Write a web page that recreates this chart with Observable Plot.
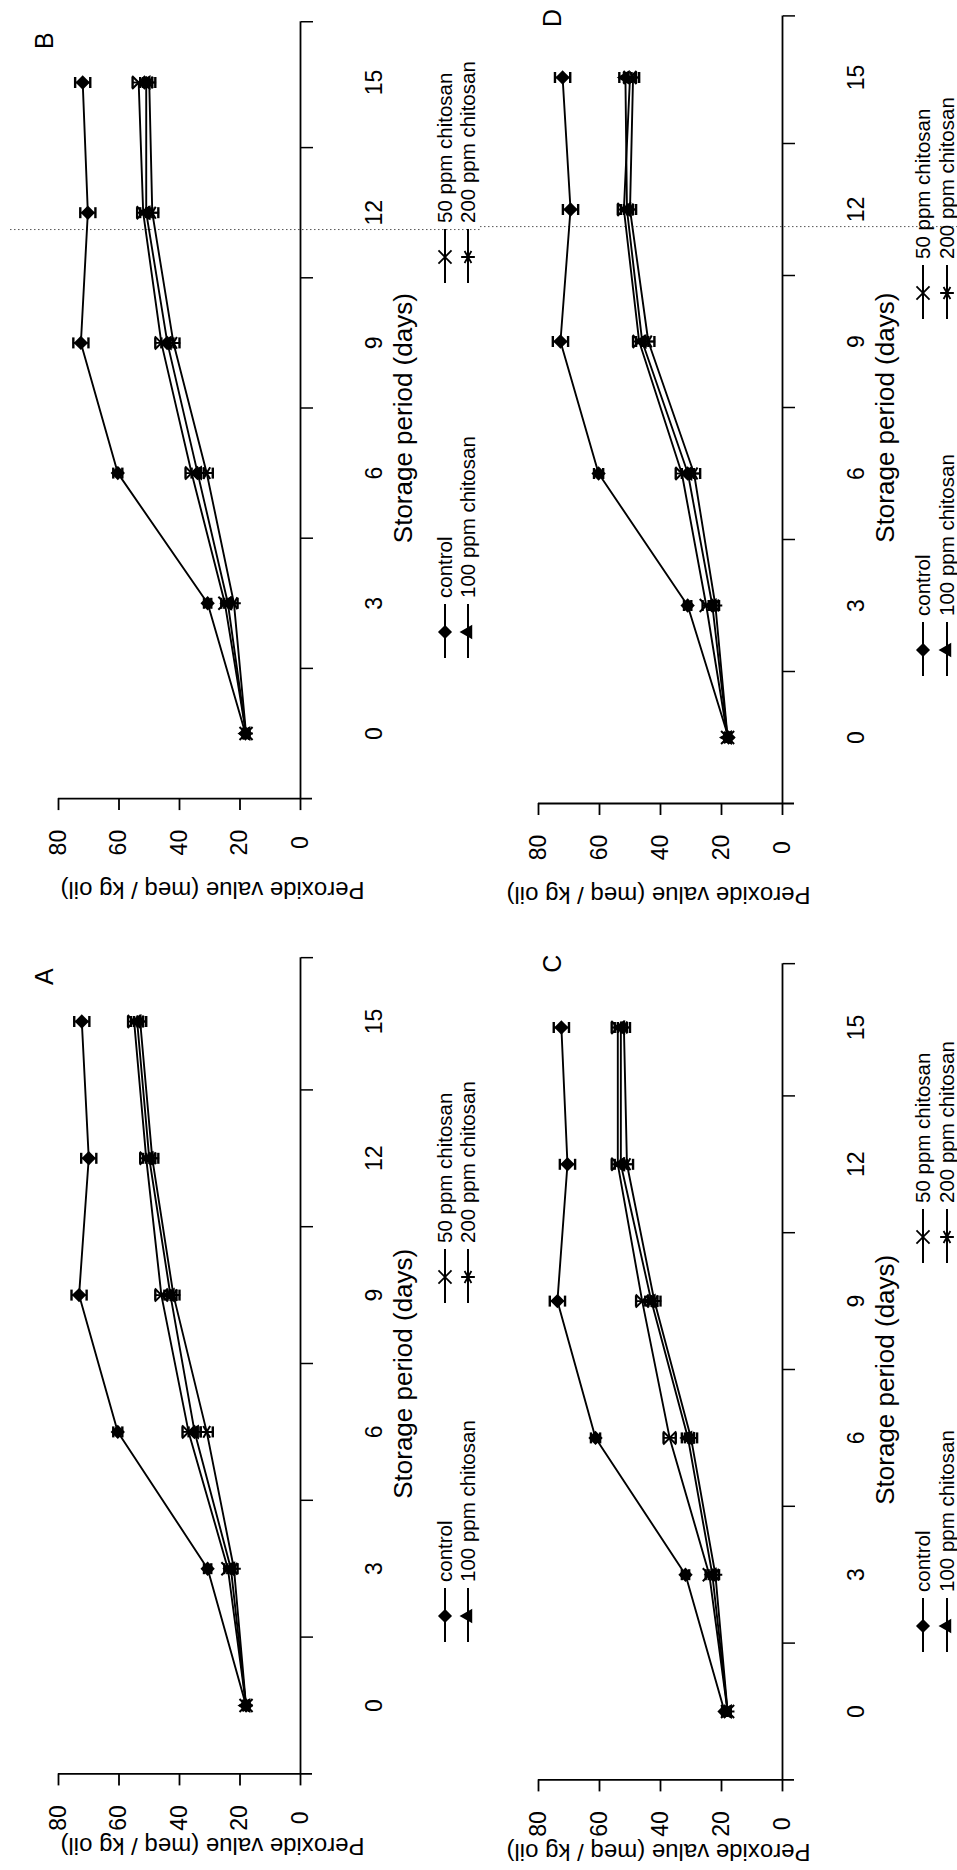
<!DOCTYPE html>
<html>
<head>
<meta charset="utf-8">
<script src="https://cdn.jsdelivr.net/npm/d3@7"></script>
<script src="https://cdn.jsdelivr.net/npm/@observablehq/plot@0.6"></script>
<style>
  html, body { margin: 0; padding: 0; background: #fff; }
  #fig { position: relative; width: 957px; height: 1870px; overflow: hidden; background: #fff; }
  #fig svg { position: absolute; }
</style>
</head>
<body>
<div id="fig"></div>
<script>
// ---------------- data ----------------
const days = [0, 3, 6, 9, 12, 15];
const seriesNames = ["control", "50 ppm chitosan", "100 ppm chitosan", "200 ppm chitosan"];
const panelLetters = ["A", "B", "C", "D"];

const A_control = [18.0, 30.7, 60.4, 73.2, 70.0, 72.3];
const A_50ppm   = [18.0, 24.0, 37.0, 46.0, 51.0, 55.0];
const A_100ppm  = [18.0, 23.0, 35.0, 43.0, 50.0, 54.0];
const A_200ppm  = [18.0, 22.0, 31.0, 42.0, 49.0, 53.0];

const B_control = [18.2, 30.7, 60.4, 72.6, 70.3, 72.0];
const B_50ppm   = [18.0, 25.0, 36.0, 46.0, 52.0, 53.5];
const B_100ppm  = [18.0, 24.0, 34.0, 44.0, 51.0, 51.0];
const B_200ppm  = [18.0, 22.0, 31.0, 42.0, 49.0, 50.0];

const C_control = [19.0, 31.8, 61.3, 73.8, 70.5, 72.5];
const C_50ppm   = [18.0, 24.0, 37.0, 46.0, 54.0, 54.0];
const C_100ppm  = [18.0, 23.0, 31.0, 43.0, 53.0, 53.0];
const C_200ppm  = [18.0, 22.0, 30.0, 42.0, 51.0, 52.0];

const D_control = [17.7, 31.1, 60.3, 72.8, 69.5, 72.1];
const D_50ppm   = [18.0, 25.0, 33.0, 47.0, 52.0, 50.0];
const D_100ppm  = [18.0, 23.0, 31.0, 46.0, 51.0, 51.5];
const D_200ppm  = [18.0, 22.0, 29.0, 44.0, 50.0, 49.0];

const sem_control = [0.8, 1.2, 1.5, 2.5, 2.5, 2.5];
const sem_treated = [1.0, 1.2, 2.0, 2.0, 2.0, 2.0];

const peroxideTicks = [0, 20, 40, 60, 80];
const dayTickLabels = [0, 3, 6, 9, 12, 15];
const dayMinorTicks = [1.5, 4.5, 7.5, 10.5, 13.5, 16.4];
const dayDomain = [-1.5, 16.4];
const peroxideDomain = [80, 0];
const scanLineDay = [11.6];

const xTitle = "Storage period (days)";
const yTitle = "Peroxide value (meq / kg oil)";

// ---------------- layout (pixels) ----------------
const FONT = '"Liberation Sans", Arial, Helvetica, sans-serif';
const layout = {
  A: {left: 0,   top: 905, width: 480, height: 965, marginLeft: 58, frameRight: 300, y0: 1705, perDay: 45.6,
      legendX: [145, 168], legendY: [1616, 1277], letterDx: -14, letterDy: 19, pvDx: 33, pvDy: 72, scan: false},
  B: {left: 0,   top: 0,   width: 480, height: 905, marginLeft: 58, frameRight: 300, y0: 733,  perDay: 43.4,
      legendX: [145, 168], legendY: [632, 257],   letterDx: -14, letterDy: 19, pvDx: 33, pvDy: 91, scan: true},
  C: {left: 480, top: 905, width: 477, height: 965, marginLeft: 58, frameRight: 302, y0: 1711, perDay: 45.6,
      legendX: [141, 165], legendY: [1626, 1237], letterDx: 14, letterDy: 0, pvDx: -2, pvDy: 72, scan: false},
  D: {left: 480, top: 0,   width: 477, height: 905, marginLeft: 58, frameRight: 302, y0: 737,  perDay: 44.0,
      legendX: [141, 165], legendY: [650, 293],   letterDx: 14, letterDy: 2, pvDx: -2, pvDy: 91, scan: true}
};

const values = {
  A: [A_control, A_50ppm, A_100ppm, A_200ppm],
  B: [B_control, B_50ppm, B_100ppm, B_200ppm],
  C: [C_control, C_50ppm, C_100ppm, C_200ppm],
  D: [D_control, D_50ppm, D_100ppm, D_200ppm]
};
const sems = [sem_control, sem_treated, sem_treated, sem_treated];

const markerStyle = {
  "control":          {symbol: "diamond2",  d3sym: d3.symbolDiamond2,  r: 5.2, fill: "black", rotate: 0},
  "50 ppm chitosan":  {symbol: "times",     d3sym: d3.symbolTimes,     r: 6.0, fill: "none",  rotate: 0},
  "100 ppm chitosan": {symbol: "triangle2", d3sym: d3.symbolTriangle2, r: 5.5, fill: "black", rotate: -90},
  "200 ppm chitosan": {symbol: "asterisk",  d3sym: d3.symbolAsterisk,  r: 6.5, fill: "none",  rotate: -90}
};
// legend grid: [column, row]; row 0 = lower entry, row 1 = upper entry
const legendGrid = {
  "control": [0, 0], "100 ppm chitosan": [1, 0],
  "50 ppm chitosan": [0, 1], "200 ppm chitosan": [1, 1]
};

const capSymbol = {
  draw(context, size) {
    const h = Math.sqrt(size / Math.PI);
    context.moveTo(0, -h);
    context.lineTo(0, h);
  }
};

function legendMark(L) {
  return (index, scales, vals, dims) => {
    const xr = dims.width - dims.marginRight;
    const g = d3.create("svg:g");
    for (const name of seriesNames) {
      const [col, row] = legendGrid[name];
      const st = markerStyle[name];
      const cx = xr + L.legendX[col];
      const cy = L.legendY[row] - L.top;
      g.append("line").attr("x1", cx).attr("x2", cx).attr("y1", cy + 26).attr("y2", cy - 28)
        .attr("stroke", "black").attr("stroke-width", 2);
      g.append("path").attr("d", d3.symbol(st.d3sym, st.r * st.r * Math.PI)())
        .attr("transform", `translate(${cx},${cy}) rotate(${st.rotate})`)
        .attr("fill", st.fill).attr("stroke", "black").attr("stroke-width", 1.8);
      g.append("text").attr("transform", `translate(${cx},${cy - 34}) rotate(-90)`)
        .attr("text-anchor", "start").attr("dy", "0.35em")
        .attr("font-size", 20.5).attr("font-family", FONT)
        .attr("fill", "black").text(name);
    }
    return g.node();
  };
}

function scanMark(L) {
  return (index, scales, vals, dims) => {
    const y = scales.y(scanLineDay[0]);
    const g = d3.create("svg:g");
    g.append("line").attr("x1", L.left === 0 ? 10 : 0).attr("x2", dims.width)
      .attr("y1", y).attr("y2", y)
      .attr("stroke", "#555").attr("stroke-width", 1).attr("stroke-dasharray", "1.5,2.5");
    return g.node();
  };
}

const mid = {textAnchor: "middle", lineAnchor: "middle", fill: "black"};

function buildPanel(key) {
  const L = layout[key];
  const rows = seriesNames.flatMap((s, si) =>
    days.map((d, i) => ({series: s, day: d, value: values[key][si][i], sem: sems[si][i]})));
  const frameTop = L.y0 - dayDomain[1] * L.perDay - L.top;
  const frameBottom = L.y0 - dayDomain[0] * L.perDay - L.top;

  const marks = [];
  if (L.scan) marks.push(scanMark(L));
  marks.push(
    // axis lines
    Plot.ruleX([0], {strokeWidth: 1.8}),
    Plot.ruleY([dayDomain[0]], {strokeWidth: 1.8, insetRight: -12}),
    Plot.axisX({anchor: "bottom", ticks: peroxideTicks, tickSize: 12, tickFormat: () => "", strokeWidth: 1.8, label: null}),
    Plot.axisY({anchor: "right", ticks: dayMinorTicks, tickSize: 12, tickFormat: () => "", strokeWidth: 1.5, label: null}),
    // tick labels
    Plot.text(dayTickLabels, {y: d => d, text: d => String(d), frameAnchor: "right", dx: 74, rotate: -90, fontSize: 23, ...mid}),
    Plot.text(peroxideTicks, {x: d => d, text: d => String(d), frameAnchor: "bottom", dy: 44, rotate: -90, fontSize: 23, ...mid}),
    // titles and panel letter
    Plot.text([xTitle], {frameAnchor: "right", dx: 103, dy: 8, rotate: -90, fontSize: 26, ...mid}),
    Plot.text([yTitle], {frameAnchor: "bottom", dx: L.pvDx, dy: L.pvDy, rotate: 180, fontSize: 24, ...mid}),
    Plot.text([key], {frameAnchor: "top-left", dx: L.letterDx, dy: L.letterDy, rotate: -90, fontSize: 25, ...mid}),
    // data: error bars, lines, markers
    Plot.ruleY(rows, {y: "day", x1: d => d.value - d.sem, x2: d => d.value + d.sem, strokeWidth: 1.8}),
    Plot.dot(rows, {x: d => d.value - d.sem, y: "day", symbol: capSymbol, r: 5.5, stroke: "black", strokeWidth: 2.4, fill: "none"}),
    Plot.dot(rows, {x: d => d.value + d.sem, y: "day", symbol: capSymbol, r: 5.5, stroke: "black", strokeWidth: 2.4, fill: "none"}),
    Plot.line(rows, {x: "value", y: "day", z: "series", stroke: "black", strokeWidth: 1.9})
  );
  for (const s of seriesNames) {
    const st = markerStyle[s];
    marks.push(Plot.dot(rows.filter(d => d.series === s), {
      x: "value", y: "day", symbol: st.symbol, r: st.r, rotate: st.rotate,
      fill: st.fill, stroke: "black", strokeWidth: 2
    }));
  }
  marks.push(legendMark(L));

  const svg = Plot.plot({
    width: L.width,
    height: L.height,
    marginLeft: L.marginLeft,
    marginRight: L.width - L.frameRight,
    marginTop: frameTop,
    marginBottom: L.height - frameBottom,
    x: {domain: peroxideDomain, label: null},
    y: {domain: dayDomain, label: null},
    style: {fontFamily: FONT, color: "black", background: "transparent", overflow: "visible"},
    marks
  });
  svg.style.left = L.left + "px";
  svg.style.top = L.top + "px";
  return svg;
}

const fig = document.getElementById("fig");
for (const k of panelLetters) fig.appendChild(buildPanel(k));
</script>
</body>
</html>
